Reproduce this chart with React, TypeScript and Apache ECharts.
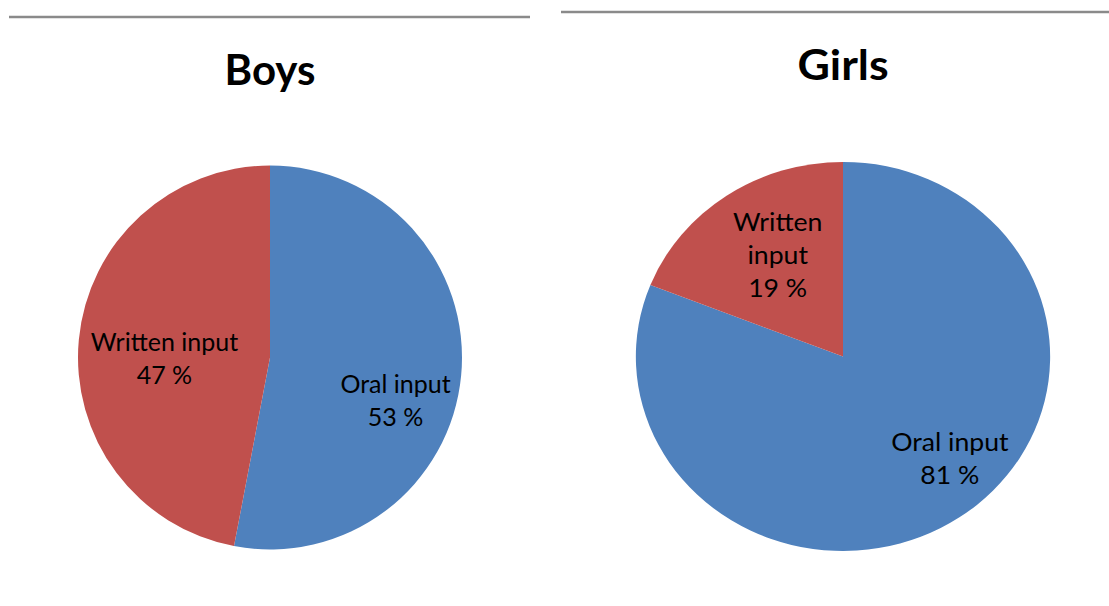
import React, { useEffect, useRef } from "react";
import * as echarts from "echarts";

const categories = ["Oral input", "Written input"];
const boysValues = [53, 47];
const girlsValues = [81, 19];
const girlsLabelNames = ["Oral input", "Written\ninput"];
const colors = ["#4F81BD", "#C0504D"];

const labelStyle = {
  show: true,
  position: "inside",
  color: "#000",
  fontFamily: "Lato",
  fontSize: 25,
  lineHeight: 33,
};

function makeOption(opts: {
  title: string;
  titleX: number;
  titleY: number;
  lineX1: number;
  lineX2: number;
  lineY: number;
  center: [number, number];
  radius: number;
  values: number[];
  names: string[];
  shifts: [number, number][];
}) {
  return {
    animation: false,
    graphic: [
      {
        type: "line",
        shape: { x1: opts.lineX1, y1: opts.lineY, x2: opts.lineX2, y2: opts.lineY },
        style: { stroke: "#8a8a8a", lineWidth: 2.5 },
      },
      {
        type: "text",
        x: opts.titleX,
        y: opts.titleY,
        style: {
          text: opts.title,
          fontFamily: "Lato",
          fontWeight: "bold",
          fontSize: 42,
          fill: "#000",
          textAlign: "center",
          textVerticalAlign: "middle",
        },
      },
    ],
    series: [
      {
        type: "pie",
        center: opts.center,
        radius: opts.radius,
        startAngle: 90,
        clockwise: true,
        silent: true,
        emphasis: { disabled: true },
        itemStyle: { borderWidth: 0 },
        label: {
          ...labelStyle,
          formatter: (p: any) => `${opts.names[p.dataIndex]}\n${p.value} %`,
        },
        labelLine: { show: false },
        labelLayout: (p: any) => ({
          dx: opts.shifts[p.dataIndex][0],
          dy: opts.shifts[p.dataIndex][1],
        }),
        data: categories.map((c, i) => ({
          name: c,
          value: opts.values[i],
          itemStyle: { color: colors[i] },
        })),
      },
    ],
  };
}

function Chart({ option, style }: { option: any; style: React.CSSProperties }) {
  const ref = useRef<HTMLDivElement>(null);
  useEffect(() => {
    if (!ref.current) return;
    const chart = echarts.init(ref.current, undefined, { renderer: "svg" });
    chart.setOption(option);
    return () => chart.dispose();
  }, [option]);
  return <div ref={ref} style={style} />;
}

const SCALE_X = 1.065;
const GIRLS_CX = 289;

const boysOption = makeOption({
  title: "Boys",
  titleX: 270,
  titleY: 69,
  lineX1: 9,
  lineX2: 530,
  lineY: 17,
  center: [270, 357.5],
  radius: 192,
  values: boysValues,
  names: categories,
  shifts: [
    [27, 33],
    [-7, 9],
  ],
});

const girlsOption = makeOption({
  title: "Girls",
  titleX: GIRLS_CX,
  titleY: 64,
  lineX1: GIRLS_CX + (561 - 843) / SCALE_X,
  lineX2: 560,
  lineY: 12,
  center: [GIRLS_CX, 356.5],
  radius: 194.5,
  values: girlsValues,
  names: girlsLabelNames,
  shifts: [
    [44, 18],
    [-5, -19],
  ],
});

export default function App() {
  return (
    <div
      style={{
        position: "fixed",
        left: 0,
        top: 0,
        width: 1109,
        height: 606,
        background: "#fff",
        overflow: "hidden",
      }}
    >
      <Chart
        option={boysOption}
        style={{ position: "absolute", left: 0, top: 0, width: 554, height: 606 }}
      />
      <Chart
        option={girlsOption}
        style={{
          position: "absolute",
          left: 554,
          top: 0,
          width: 555,
          height: 606,
          transform: `scaleX(${SCALE_X})`,
          transformOrigin: `${GIRLS_CX}px 0px`,
        }}
      />
    </div>
  );
}
